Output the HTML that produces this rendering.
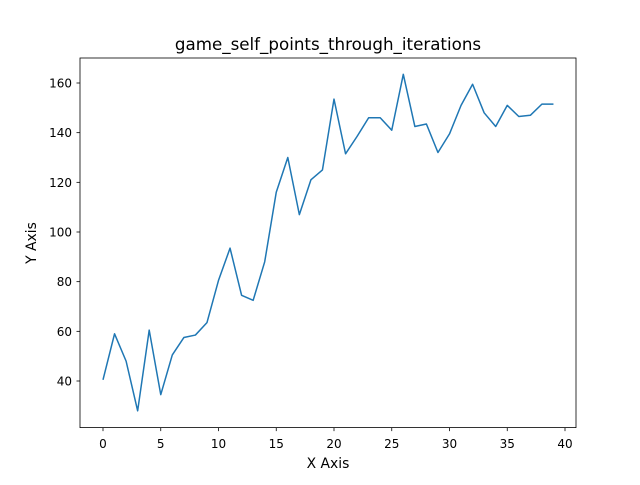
<!DOCTYPE html>
<html><head><meta charset="utf-8"><style>
body{margin:0;background:#fff;}
svg text{font-family:"DejaVu Sans","Liberation Sans",sans-serif;fill:#000;}
</style></head><body>
<svg id="chart" width="640" height="480" xmlns="http://www.w3.org/2000/svg">
<rect x="0" y="0" width="640" height="480" fill="#fff"/>
<text x="328" y="50" font-size="16.7" text-anchor="middle">game_self_points_through_iterations</text>
<g id="ticks"></g>
<path id="line" fill="none" stroke="#1f77b4" stroke-width="1.5" stroke-linejoin="round"/>
<rect x="80" y="58" width="496" height="369.6" fill="none" stroke="#000" stroke-width="0.8"/>
<text x="328" y="468" font-size="13.9" text-anchor="middle">X Axis</text>
<text x="0" y="0" font-size="13.9" text-anchor="middle" transform="translate(36,243) rotate(-90)">Y Axis</text>
</svg>
<script>
const xTicks = [0,5,10,15,20,25,30,35,40];
const yTicks = [40,60,80,100,120,140,160];
const values = [40.5,59,48,28,60.5,34.5,50.5,57.5,58.5,63.5,80.5,93.5,74.5,72.5,88,116,130,107,121,125,153.5,131.5,138.5,146,146,141,163.5,142.5,143.5,132,139.5,151,159.5,148,142.5,151,146.5,147,151.5,151.5];
function sx(v){return 103+v*(565-103)/40;}
function sy(v){return 381-(v-40)*(381-83)/120;}
const ns="http://www.w3.org/2000/svg";
const g=document.getElementById('ticks');
xTicks.forEach(t=>{
  const l=document.createElementNS(ns,'line');
  l.setAttribute('x1',sx(t));l.setAttribute('x2',sx(t));l.setAttribute('y1',427.6);l.setAttribute('y2',431.1);
  l.setAttribute('stroke','#000');l.setAttribute('stroke-width','0.8');
  
  
  g.appendChild(l);
  const tx=document.createElementNS(ns,'text');
  tx.setAttribute('x',sx(t));tx.setAttribute('y',448);tx.setAttribute('font-size','12');tx.setAttribute('text-anchor','middle');
  tx.textContent=t;
  
  
  g.appendChild(tx);
});
yTicks.forEach(t=>{
  const l=document.createElementNS(ns,'line');
  l.setAttribute('x1',76.5);l.setAttribute('x2',80);l.setAttribute('y1',sy(t));l.setAttribute('y2',sy(t));
  l.setAttribute('stroke','#000');l.setAttribute('stroke-width','0.8');
  
  
  g.appendChild(l);
  const tx=document.createElementNS(ns,'text');
  tx.setAttribute('x',72);tx.setAttribute('y',sy(t)+4.5);tx.setAttribute('font-size','12');tx.setAttribute('text-anchor','end');
  tx.textContent=t;
  
  
  g.appendChild(tx);
});
document.getElementById('line').setAttribute('d',values.map((v,i)=>(i?'L':'M')+sx(i).toFixed(2)+' '+sy(v).toFixed(2)).join(' '));
</script>
</body></html>
